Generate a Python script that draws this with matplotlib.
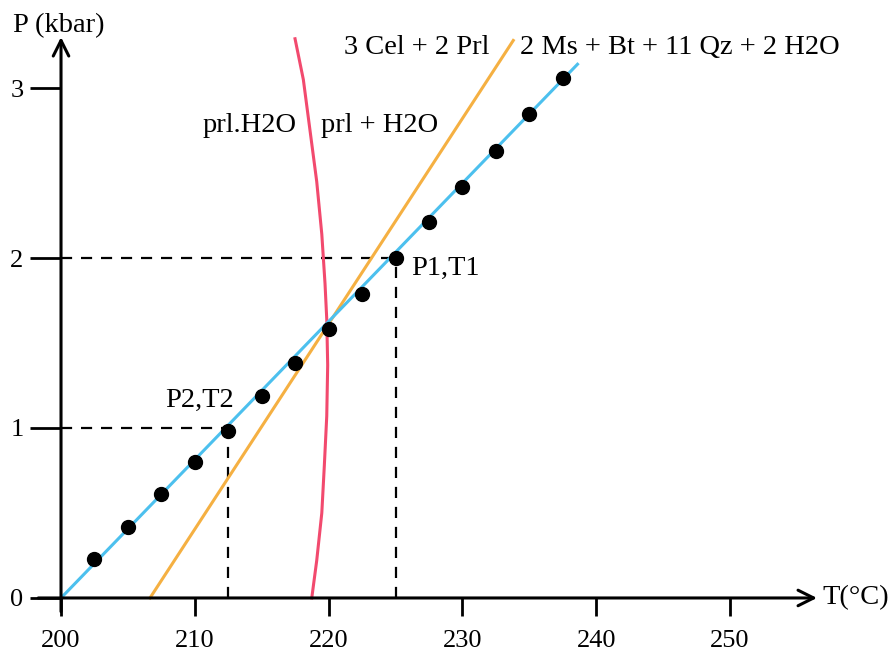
import matplotlib.pyplot as plt
import numpy as np

plt.rcParams['font.family'] = ['Liberation Serif', 'DejaVu Serif']

# measured points on the P-T path (T in °C, P in kbar)
dot_T = [202.5, 205, 207.5, 210, 212.5, 215, 217.5, 220, 222.5, 225,
         227.5, 230, 232.5, 235, 237.5]
dot_P = [0.23, 0.42, 0.61, 0.80, 0.98, 1.19, 1.38, 1.58, 1.79, 2.0,
         2.21, 2.42, 2.63, 2.85, 3.06]

# blue fitted line through the points
blue_T = [200, 238.6]
blue_P = [0, 3.14]

# 3 Cel + 2 Prl = 2 Ms + Bt + 11 Qz + 2 H2O reaction
orange_T = [206.65, 233.8]
orange_P = [0, 3.28]

# prl.H2O = prl + H2O boundary (curved)
red_T = [218.74, 219.11, 219.49, 219.68, 219.86, 219.93, 219.86, 219.73,
         219.49, 219.11, 218.61, 218.11, 217.49]
red_P = [0, 0.22, 0.50, 0.78, 1.07, 1.37, 1.64, 1.85,
         2.14, 2.45, 2.75, 3.05, 3.29]

x_ticks = [200, 210, 220, 230, 240, 250]
y_ticks = [0, 1, 2, 3]

P1T1 = (225, 2.0)
P2T2 = (212.5, 1.0)

fig = plt.figure(figsize=(8.89, 6.51), dpi=100)
ax = fig.add_axes([0, 0, 1, 1])
ax.set_xlim(195.44, 261.88)
ax.set_ylim(-0.312, 3.518)

# axes drawn as arrows through the origin
ax.spines['left'].set_position(('data', 200))
ax.spines['bottom'].set_position(('data', 0))
for s in ['top', 'right', 'left', 'bottom']:
    ax.spines[s].set_visible(False)
ax.annotate('', xy=(256.5, 0), xytext=(198.3, 0),
            arrowprops=dict(arrowstyle='->', lw=2.2, color='black', mutation_scale=28,
                            shrinkA=0, shrinkB=0))
ax.annotate('', xy=(200, 3.30), xytext=(200, -0.08),
            arrowprops=dict(arrowstyle='->', lw=2.2, color='black', mutation_scale=28,
                            shrinkA=0, shrinkB=0))

ax.set_xticks(x_ticks)
ax.set_yticks(y_ticks)
ax.tick_params(axis='x', direction='out', length=13, width=2, labelsize=19, pad=10)
ax.tick_params(axis='y', direction='out', length=22, width=2, labelsize=19, pad=5)
ax.set_yticklabels([str(v) for v in y_ticks])
ax.set_xticklabels([str(v) for v in x_ticks])

# dashed guides to P1,T1 and P2,T2
for T, P in [P1T1, P2T2]:
    ax.plot([200, T], [P, P], color='black', lw=1.6, ls=(0, (5, 4)))
    ax.plot([T, T], [0, P], color='black', lw=1.6, ls=(0, (5, 4)))

ax.plot(red_T, red_P, color='#f24a6e', lw=2.2, solid_joinstyle='round')
ax.plot(orange_T, orange_P, color='#f5b042', lw=2.2)
ax.plot(blue_T, blue_P, color='#4cc0ee', lw=2.2)
ax.plot(dot_T, dot_P, 'o', color='black', markersize=10)

fs = 20.5
ax.text(P1T1[0] + 1.2, P1T1[1] - 0.06, 'P1,T1', fontsize=fs, ha='left', va='center')
ax.text(P2T2[0] + 0.4, P2T2[1] + 0.16, 'P2,T2', fontsize=fs, ha='right', va='center')
ax.text(217.6, 2.78, 'prl.H2O', fontsize=fs, ha='right', va='center')
ax.text(219.4, 2.78, 'prl + H2O', fontsize=fs, ha='left', va='center')
ax.text(232.0, 3.24, '3 Cel + 2 Prl', fontsize=fs, ha='right', va='center')
ax.text(234.3, 3.24, '2 Ms + Bt + 11 Qz + 2 H2O', fontsize=fs, ha='left', va='center')
ax.text(199.8, 3.37, 'P (kbar)', fontsize=fs, ha='center', va='center')
ax.text(256.9, 0, 'T(°C)', fontsize=fs, ha='left', va='center')

fig.savefig('out.png', dpi=100)
